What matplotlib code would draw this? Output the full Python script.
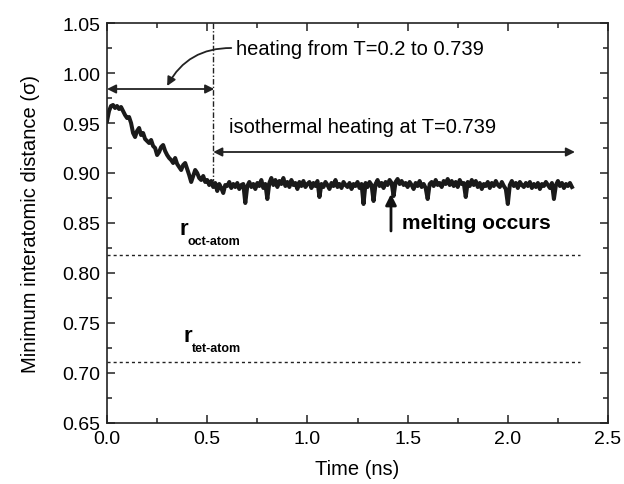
import numpy as np
import matplotlib
matplotlib.use("Agg")
import matplotlib.pyplot as plt
from matplotlib.ticker import MultipleLocator, FormatStrFormatter

# minimum interatomic distance (sigma), sampled every 0.01 ns from t = 0
dist = [
    0.952, 0.962, 0.967, 0.968, 0.965, 0.967, 0.964, 0.966, 0.962, 0.958,
    0.955, 0.956, 0.950, 0.940, 0.936, 0.942, 0.945, 0.938, 0.940, 0.934,
    0.932, 0.930, 0.933, 0.927, 0.925, 0.918, 0.921, 0.926, 0.928, 0.922,
    0.918, 0.915, 0.913, 0.910, 0.915, 0.909, 0.906, 0.903, 0.908, 0.910,
    0.904, 0.898, 0.891, 0.897, 0.903, 0.900, 0.895, 0.893, 0.897, 0.891,
    0.893, 0.888, 0.892, 0.886, 0.890, 0.882, 0.889, 0.885, 0.880, 0.888,
    0.887, 0.891, 0.885, 0.889, 0.886, 0.890, 0.884, 0.888, 0.889, 0.870,
    0.887, 0.891, 0.886, 0.889, 0.884, 0.890, 0.887, 0.893, 0.885, 0.889,
    0.874, 0.890, 0.895, 0.888, 0.893, 0.886, 0.892, 0.889, 0.895, 0.887,
    0.891, 0.886, 0.893, 0.888, 0.890, 0.884, 0.891, 0.887, 0.892, 0.886,
    0.889, 0.891, 0.885, 0.890, 0.887, 0.892, 0.876, 0.889, 0.886, 0.891,
    0.888, 0.884, 0.890, 0.887, 0.893, 0.886, 0.889, 0.885, 0.891, 0.888,
    0.886, 0.890, 0.884, 0.889, 0.887, 0.891, 0.885, 0.889, 0.869, 0.890,
    0.886, 0.891, 0.888, 0.872, 0.889, 0.893, 0.887, 0.890, 0.885, 0.891,
    0.888, 0.893, 0.890, 0.877, 0.891, 0.894, 0.889, 0.892, 0.888, 0.890,
    0.886, 0.891, 0.888, 0.884, 0.890, 0.887, 0.892, 0.886, 0.889, 0.885,
    0.874, 0.889, 0.891, 0.887, 0.893, 0.888, 0.890, 0.886, 0.892, 0.889,
    0.894, 0.888, 0.892, 0.887, 0.891, 0.886, 0.893, 0.889, 0.890, 0.876,
    0.891, 0.887, 0.893, 0.888, 0.892, 0.886, 0.890, 0.884, 0.889, 0.887,
    0.891, 0.885, 0.890, 0.887, 0.892, 0.888, 0.886, 0.891, 0.887, 0.884,
    0.869, 0.888, 0.892, 0.887, 0.890, 0.885, 0.891, 0.888, 0.886, 0.890,
    0.887, 0.891, 0.885, 0.889, 0.886, 0.890, 0.884, 0.889, 0.887, 0.891,
    0.888, 0.885, 0.890, 0.874, 0.888, 0.892, 0.887, 0.890, 0.885, 0.889,
    0.887, 0.890, 0.886,
]
time_ns = np.arange(len(dist)) * 0.01

# reference distances
r_oct = 0.818
r_tet = 0.711
ref_end = 2.36

# heating stages (ns)
t_heat_end = 0.53
t_iso_end = 2.335
t_melt = 1.417

plt.rcParams["font.family"] = ["Liberation Sans", "DejaVu Sans"]

fig = plt.figure(figsize=(6.24, 4.85), dpi=100)
ax = fig.add_axes([0.1715, 0.1258, 0.8029, 0.8247])

ax.plot(time_ns, dist, color="#1a1a1a", lw=2.9, solid_joinstyle="round")

ax.plot([0, ref_end], [r_oct, r_oct], color="#222222", lw=1.0, ls=(0, (2.2, 2.2)))
ax.plot([0, ref_end], [r_tet, r_tet], color="#222222", lw=1.0, ls=(0, (2.2, 2.2)))
ax.plot([t_heat_end, t_heat_end], [1.05, 0.892], color="#222222", lw=1.0,
        ls=(0, (4, 1.5, 1, 1.5)))

arrow = dict(arrowstyle="<|-|>", color="#222222", lw=1.3, mutation_scale=13,
             shrinkA=0, shrinkB=0)
ax.annotate("", xy=(t_heat_end + 0.005, 0.984), xytext=(0.0, 0.984), arrowprops=arrow)
ax.annotate("", xy=(t_iso_end, 0.921), xytext=(t_heat_end, 0.921), arrowprops=arrow)

ax.annotate("", xy=(0.30, 0.987), xytext=(0.62, 1.025),
            arrowprops=dict(arrowstyle="-|>", color="#222222", lw=1.3,
                            mutation_scale=13, shrinkA=0, shrinkB=0,
                            connectionstyle="arc3,rad=0.3"))
ax.text(0.645, 1.025, "heating from T=0.2 to 0.739", fontsize=14.5, va="center")
ax.text(0.61, 0.947, "isothermal heating at T=0.739", fontsize=14.5, va="center")

ax.annotate("", xy=(t_melt, 0.879), xytext=(t_melt, 0.842),
            arrowprops=dict(arrowstyle="-|>", color="#111111", lw=2.0,
                            mutation_scale=16, shrinkA=0, shrinkB=0))
ax.text(1.47, 0.850, "melting occurs", fontsize=15, fontweight="bold", va="center")

ax.text(0.362, 0.844, "r", fontsize=16, fontweight="bold", va="center")
ax.text(0.40, 0.832, "oct-atom", fontsize=9, fontweight="bold", va="center")
ax.text(0.382, 0.737, "r", fontsize=16, fontweight="bold", va="center")
ax.text(0.424, 0.725, "tet-atom", fontsize=9, fontweight="bold", va="center")

ax.set_xlim(0, 2.5)
ax.set_ylim(0.65, 1.05)
ax.xaxis.set_major_locator(MultipleLocator(0.5))
ax.xaxis.set_minor_locator(MultipleLocator(0.25))
ax.yaxis.set_major_locator(MultipleLocator(0.05))
ax.yaxis.set_minor_locator(MultipleLocator(0.025))
ax.xaxis.set_major_formatter(FormatStrFormatter("%.1f"))
ax.yaxis.set_major_formatter(FormatStrFormatter("%.2f"))
ax.tick_params(which="both", direction="in", top=True, right=True,
               labelsize=14, width=1.1, color="#222222")
ax.tick_params(which="major", length=6)
ax.tick_params(which="minor", length=3.5)
ax.tick_params(axis="x", pad=5)
ax.tick_params(axis="y", pad=5)
for s in ax.spines.values():
    s.set_linewidth(1.2)
    s.set_color("#222222")

ax.set_xlabel("Time (ns)", fontsize=14.5, labelpad=9)
ax.set_ylabel("Minimum interatomic distance (\u03c3)", fontsize=14.5, labelpad=16)

fig.savefig("out.png", dpi=100)
